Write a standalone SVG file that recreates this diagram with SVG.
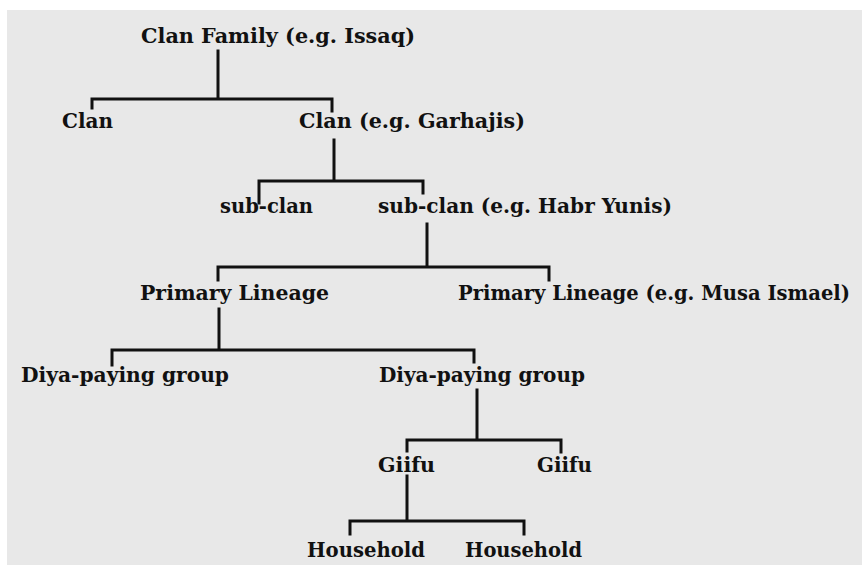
<svg xmlns="http://www.w3.org/2000/svg" width="862" height="565" viewBox="0 0 862 565">
<style>
.bg{fill:#e8e8e8}
.t{font-family:"DejaVu Serif","Liberation Serif",serif;font-weight:bold;font-size:21px;fill:#111}
.n{font-size:19.5px}
.c{stroke:#111;stroke-width:3;fill:none;stroke-linecap:square}
</style>
<rect width="862" height="565" fill="#ffffff"/>
<rect class="bg" x="7" y="10" width="855" height="555"/>
<g id="connectors">
<path class="c" d="M218 51V99M92 108V99H332V111"/>
<path class="c" d="M334 140V181M259 203V181H423V193"/>
<path class="c" d="M427 224V267M218 280V267H549V280"/>
<path class="c" d="M219 309V350M112 365V350H474V362"/>
<path class="c" d="M477 390V440M407 451V440H561V452"/>
<path class="c" d="M407 476V521M350 534V521H524V534"/>
</g>
<g id="n-clanfamily"><text class="t" x="141" y="43" textLength="274" lengthAdjust="spacingAndGlyphs">Clan Family  (e.g. Issaq)</text></g>
<g id="n-clan1"><text class="t" x="62" y="128" textLength="51" lengthAdjust="spacingAndGlyphs">Clan</text></g>
<g id="n-clan2"><text class="t" x="299" y="128" textLength="226" lengthAdjust="spacingAndGlyphs">Clan  (e.g. Garhajis)</text></g>
<g id="n-subclan1"><text class="t" x="220" y="213" textLength="93" lengthAdjust="spacingAndGlyphs">sub-clan</text></g>
<g id="n-subclan2"><text class="t" x="378" y="213" textLength="294" lengthAdjust="spacingAndGlyphs">sub-clan  (e.g. Habr Yunis)</text></g>
<g id="n-primary1"><text class="t" x="140" y="300" textLength="189" lengthAdjust="spacingAndGlyphs">Primary Lineage</text></g>
<g id="n-primary2"><text class="t n" x="458" y="300" textLength="392" lengthAdjust="spacingAndGlyphs">Primary Lineage (e.g. Musa Ismael)</text></g>
<g id="n-diya1"><text class="t" x="21" y="382" textLength="208" lengthAdjust="spacingAndGlyphs">Diya-paying group</text></g>
<g id="n-diya2"><text class="t" x="379" y="382" textLength="206" lengthAdjust="spacingAndGlyphs">Diya-paying group</text></g>
<g id="n-giifu1"><text class="t" x="378" y="472" textLength="57" lengthAdjust="spacingAndGlyphs">Giifu</text></g>
<g id="n-giifu2"><text class="t" x="537" y="472" textLength="55" lengthAdjust="spacingAndGlyphs">Giifu</text></g>
<g id="n-household1"><text class="t" x="307" y="557" textLength="118" lengthAdjust="spacingAndGlyphs">Household</text></g>
<g id="n-household2"><text class="t" x="465" y="557" textLength="117" lengthAdjust="spacingAndGlyphs">Household</text></g>
</svg>
